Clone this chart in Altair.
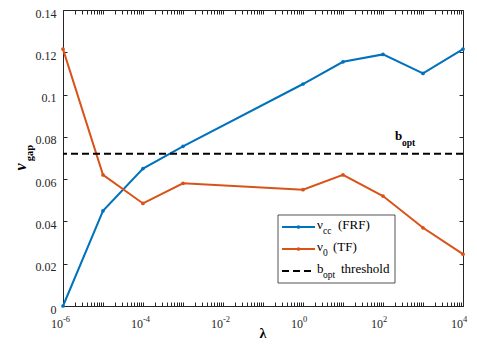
import altair as alt
import pandas as pd

# ---- data ----
lam = [1e-6, 1e-5, 1e-4, 1e-3, 1e0, 1e1, 1e2, 1e3, 1e4]
nu_cc = [0.0, 0.045, 0.065, 0.0755, 0.105, 0.1155, 0.119, 0.110, 0.1215]
nu_0 = [0.1215, 0.062, 0.0485, 0.058, 0.055, 0.062, 0.052, 0.037, 0.0245]
b_opt = 0.072
series_names = ["FRF", "TF"]
x_label_exps = [-6, -4, -2, 0, 2, 4]
y_tick_vals = [0, 0.02, 0.04, 0.06, 0.08, 0.1, 0.12, 0.14]

FONT = "Liberation Serif"
AX = "#262626"
BLUE = "#0072BD"
ORANGE = "#D95319"

df = pd.DataFrame({
    "lam": lam + lam,
    "val": nu_cc + nu_0,
    "series": [series_names[0]] * len(lam) + [series_names[1]] * len(lam),
})
df_xt = pd.DataFrame({
    "pos": [10.0 ** e for e in x_label_exps],
    "base": ["10"] * len(x_label_exps),
    "exp": [str(e) for e in x_label_exps],
})
df_b = pd.DataFrame({"b": [b_opt]})

minor = []
for k in range(-6, 4):
    for m in range(1, 10):
        minor.append(float(f"{m}e{k}"))
minor.append(1e4)

W, H = 400, 296
xs = alt.Scale(type="log", domain=[1e-6, 1e4], nice=False)
ys = alt.Scale(domain=[0, 0.14], nice=False)
cs = alt.Scale(domain=series_names, range=[BLUE, ORANGE])

common_ax = dict(domain=False, grid=False, title=None, tickColor=AX, tickSize=4,
                 offset=-4, tickWidth=1)

lines = alt.Chart(df).mark_line(strokeWidth=2, clip=False).encode(
    x=alt.X("lam:Q", scale=xs,
            axis=alt.Axis(orient="bottom", values=minor, labels=False, **common_ax)),
    y=alt.Y("val:Q", scale=ys,
            axis=alt.Axis(orient="left", values=y_tick_vals,
                          labelExpr="datum.value == 0 ? '0' : format(datum.value, '.2~f')",
                          labelFont=FONT, labelFontSize=12, labelColor=AX,
                          labelPadding=7, labelOffset=3, labelBound=False,
                          **common_ax)),
    color=alt.Color("series:N", scale=cs, legend=None),
    detail="series:N",
)

points = alt.Chart(df).mark_point(filled=True, size=14, opacity=1).encode(
    x=alt.X("lam:Q", scale=xs,
            axis=alt.Axis(orient="top", values=minor, labels=False, **common_ax)),
    y=alt.Y("val:Q", scale=ys,
            axis=alt.Axis(orient="right", values=y_tick_vals, labels=False, **common_ax)),
    color=alt.Color("series:N", scale=cs, legend=None),
)

rule = alt.Chart(df_b).mark_rule(color="black", strokeWidth=2, strokeDash=[7, 4]).encode(
    y=alt.Y("b:Q", scale=ys, axis=None),
)

xt_base = alt.Chart(df_xt).mark_text(font=FONT, fontSize=12, align="right",
                                     baseline="middle", color=AX).encode(
    x=alt.X("pos:Q", scale=xs, axis=None),
    y=alt.value(H + 18),
    text="base:N",
)
xt_exp = alt.Chart(df_xt).mark_text(font=FONT, fontSize=8.5, align="left",
                                    baseline="middle", color=AX).encode(
    x=alt.X("pos:Q", scale=xs, axis=None),
    y=alt.value(H + 13),
    text="exp:N",
)

one = alt.Data(values=[{}])


def txt(s, x, y, size, align="left", weight="normal", angle=0, style="normal"):
    return alt.Chart(one).mark_text(
        text=s, font=FONT, fontSize=size, align=align, baseline="middle",
        fontWeight=weight, angle=angle, fontStyle=style, color="black",
    ).encode(x=alt.value(x), y=alt.value(y))


labels = [
    txt("λ", 200, H + 28, 14, align="center", weight="bold"),
    txt("ν", -42, 157, 16, align="center", weight="bold", angle=270, style="italic"),
    txt("gap", -33, 143, 10.5, align="center", weight="bold", angle=270),
    txt("b", 332, 126, 13, weight="bold"),
    txt("opt", 339, 133, 9.5, weight="bold"),
]

# manual legend (subscripts)
box = alt.Chart(one).mark_rect(fill="white", stroke=AX, strokeWidth=0.8).encode(
    x=alt.value(215), x2=alt.value(332), y=alt.value(205), y2=alt.value(273))
leg = [box]
for yy, col in [(217, BLUE), (239, ORANGE)]:
    leg.append(alt.Chart(one).mark_rule(color=col, strokeWidth=2).encode(
        x=alt.value(219), x2=alt.value(252), y=alt.value(yy)))
    leg.append(alt.Chart(one).mark_point(filled=True, size=14, color=col, opacity=1).encode(
        x=alt.value(235.5), y=alt.value(yy)))
leg.append(alt.Chart(one).mark_rule(color="black", strokeWidth=2, strokeDash=[7, 4]).encode(
    x=alt.value(219), x2=alt.value(252), y=alt.value(261)))
leg += [
    txt("ν", 254, 215, 13),
    txt("cc", 260, 221, 9.5),
    txt("(FRF)", 275, 215, 13),
    txt("ν", 254, 237, 13),
    txt("0", 260, 243, 9.5),
    txt("(TF)", 270, 237, 13),
    txt("b", 254, 259, 13),
    txt("opt", 260, 265, 9.5),
    txt("threshold", 278, 259, 13),
]

chart = alt.layer(lines, rule, points, xt_base, xt_exp, *labels, *leg).resolve_scale(
    x="shared", y="shared", color="shared"
).resolve_axis(x="independent", y="independent").properties(
    width=W, height=H,
    autosize=alt.AutoSizeParams(type="none"),
    padding={"left": 55, "top": 2, "right": 6, "bottom": 35},
    background="white",
).configure_view(stroke=AX, strokeWidth=1)

chart.save("out.html", embed_options={"renderer": "svg", "actions": False})
